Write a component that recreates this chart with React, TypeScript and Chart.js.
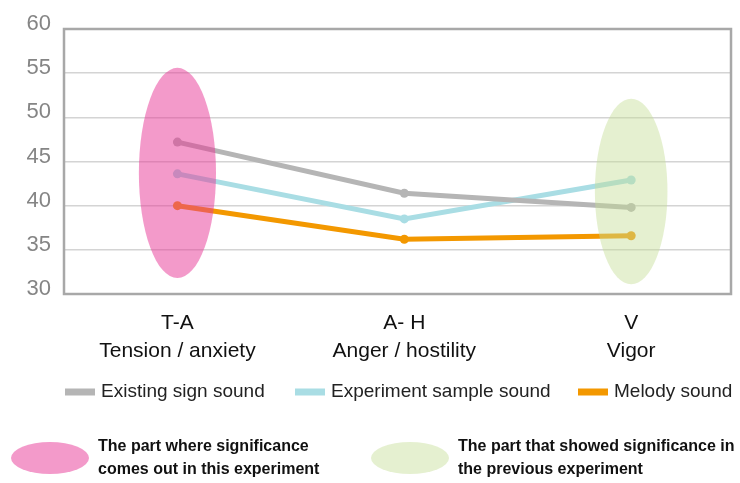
import React, { useEffect, useRef } from "react";
import { Chart, registerables } from "chart.js";

Chart.register(...registerables);

const categories: string[][] = [
  ["T-A", "Tension / anxiety"],
  ["A- H", "Anger / hostility"],
  ["V", "Vigor"],
];
const seriesNames = ["Existing sign sound", "Experiment sample sound", "Melody sound"];
const existingSign = [47.2, 41.4, 39.8];
const experimentSample = [43.6, 38.5, 42.9];
const melody = [40.0, 36.2, 36.6];
const seriesColors = ["#b5b5b5", "#a9dde4", "#f39800"];
const yTicks = [30, 35, 40, 45, 50, 55, 60];

// highlighted regions (category index, value range)
const highlightCategory = [0, 2];
const highlightLow = [31.8, 31.1];
const highlightHigh = [55.6, 52.1];
const highlightHalfWidth = [0.17, 0.16];
const highlightColors = ["rgba(231,53,150,0.5)", "rgba(197,222,150,0.45)"];
const highlightNotes = [
  ["The part where significance", "comes out in this experiment"],
  ["The part that showed significance in", "the previous experiment"],
];

const FONT = "'Liberation Sans', Arial, sans-serif";

const framePlugin = {
  id: "frame",
  afterDatasetsDraw(chart: any) {
    const { ctx, chartArea, scales } = chart;
    const x = scales.x;
    const y = scales.y;
    ctx.save();
    highlightCategory.forEach((c, i) => {
      const cx = x.getPixelForValue(c);
      const rx = Math.abs(x.getPixelForValue(c + highlightHalfWidth[i]) - cx);
      const top = y.getPixelForValue(highlightHigh[i]);
      const bot = y.getPixelForValue(highlightLow[i]);
      ctx.beginPath();
      ctx.ellipse(cx, (top + bot) / 2, rx, (bot - top) / 2, 0, 0, Math.PI * 2);
      ctx.fillStyle = highlightColors[i];
      ctx.fill();
    });
    ctx.strokeStyle = "#a8a8a8";
    ctx.lineWidth = 2.5;
    ctx.strokeRect(chartArea.left, chartArea.top, chartArea.right - chartArea.left, chartArea.bottom - chartArea.top);
    ctx.restore();
  },
  afterDraw(chart: any) {
    const { ctx } = chart;
    ctx.save();
    // series legend
    const legendX = [65, 295, 578];
    const legendY = 392;
    ctx.font = `19px ${FONT}`;
    ctx.textBaseline = "middle";
    ctx.textAlign = "left";
    chart.data.datasets.forEach((ds: any, i: number) => {
      ctx.fillStyle = ds.borderColor;
      ctx.fillRect(legendX[i], legendY - 3.5, 30, 7);
      ctx.fillStyle = "#222";
      ctx.fillText(ds.label, legendX[i] + 36, legendY);
    });
    // highlight legend
    const noteX = [50, 410];
    const noteY = 458;
    highlightColors.forEach((col, i) => {
      ctx.beginPath();
      ctx.ellipse(noteX[i], noteY, 39, 16, 0, 0, Math.PI * 2);
      ctx.fillStyle = col;
      ctx.fill();
      ctx.fillStyle = "#111";
      ctx.font = `bold 16px ${FONT}`;
      ctx.fillText(highlightNotes[i][0], noteX[i] + 48, noteY - 11);
      ctx.fillText(highlightNotes[i][1], noteX[i] + 48, noteY + 12);
    });
    ctx.restore();
  },
};

export default function App() {
  const ref = useRef<HTMLCanvasElement>(null);
  useEffect(() => {
    if (!ref.current) return;
    const mk = (vals: number[]) => vals.map((v, i) => ({ x: i, y: v }));
    const all = [existingSign, experimentSample, melody];
    const chart = new Chart(ref.current, {
      type: "line",
      data: {
        datasets: all.map((vals, i) => ({
          label: seriesNames[i],
          data: mk(vals),
          borderColor: seriesColors[i],
          backgroundColor: seriesColors[i],
          borderWidth: 5,
          pointRadius: 4.5,
          pointBorderWidth: 0,
          tension: 0,
        })),
      },
      options: {
        animation: false,
        responsive: true,
        maintainAspectRatio: false,
        layout: { padding: { left: 0, right: 9, top: 29, bottom: 0 } },
        plugins: { legend: { display: false }, tooltip: { enabled: false } },
        scales: {
          x: {
            type: "linear",
            min: -0.5,
            max: 2.44,
            grid: { display: false },
            border: { display: false },
            afterBuildTicks: (s: any) => {
              s.ticks = categories.map((_, i) => ({ value: i }));
            },
            afterFit: (s: any) => {
              s.height = 189;
            },
            ticks: {
              autoSkip: false,
              maxRotation: 0,
              padding: 8,
              color: "#111",
              font: { size: 21, family: FONT, lineHeight: 1.3 },
              callback: (v: any) => categories[v] ?? "",
            },
          },
          y: {
            min: 30,
            max: 60,
            afterBuildTicks: (s: any) => {
              s.ticks = yTicks.map((v) => ({ value: v }));
            },
            afterFit: (s: any) => {
              s.width = 64;
            },
            grid: { color: "#d4d4d4", lineWidth: 1.5, drawTicks: false },
            border: { display: false },
            ticks: {
              padding: 13,
              labelOffset: -5,
              color: "#858585",
              font: { size: 22, family: FONT },
            },
          },
        },
      },
      plugins: [framePlugin],
    } as any);
    return () => chart.destroy();
  }, []);
  return (
    <div style={{ position: "absolute", left: 0, top: 0, width: 740, height: 483, background: "#fff" }}>
      <canvas ref={ref} />
    </div>
  );
}
